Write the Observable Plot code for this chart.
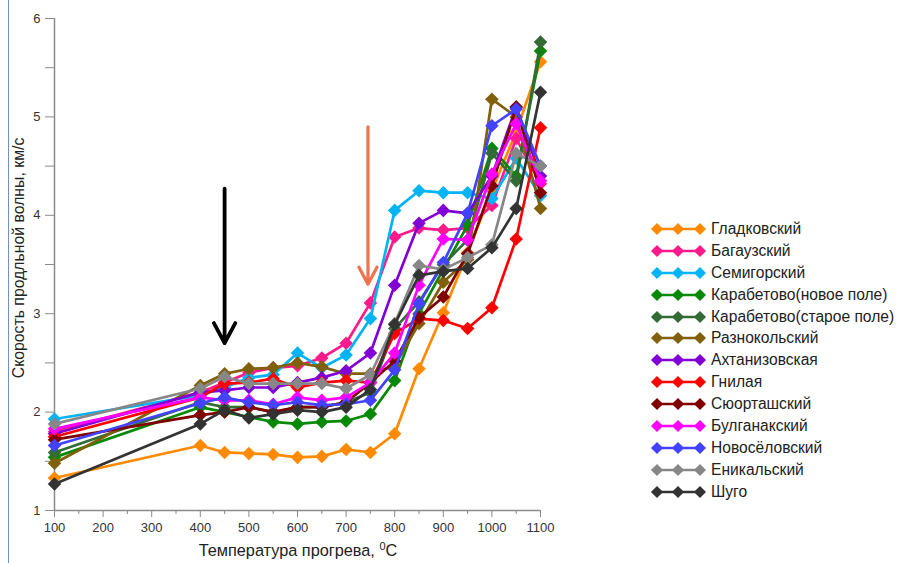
<!DOCTYPE html>
<html>
<head>
<meta charset="utf-8">
<script src="https://cdn.jsdelivr.net/npm/d3@7"></script>
<script src="https://cdn.jsdelivr.net/npm/@observablehq/plot@0.6"></script>
<style>
  html, body { margin: 0; padding: 0; background: #fff; }
  body { width: 898px; height: 563px; overflow: hidden; font-family: "Liberation Sans", Arial, sans-serif; }
  #wrap { position: relative; width: 898px; height: 563px; }
  #border { position: absolute; left: 8px; top: 0; width: 1px; height: 563px; background: #6f93c6; }
  #xlabel { position: absolute; left: 0; width: 596px; text-align: center; top: 540px; font-size: 16.3px; color: #222; }
  #xlabel sup { font-size: 11px; vertical-align: 6px; }
  #ylabel { position: absolute; left: 19px; top: 258px; transform: translate(-50%, -50%) rotate(-90deg); white-space: nowrap; font-size: 15.8px; color: #222; }
  #legend { position: absolute; left: 648px; top: 218px; }
  .item { height: 21.9px; display: flex; align-items: center; font-size: 15.6px; color: #222; }
  .item svg { margin-right: 5px; }
</style>
</head>
<body>
<div id="wrap">
  <div id="border"></div>
  <div id="chart"></div>
  <div id="xlabel">Температура прогрева, <sup>0</sup>C</div>
  <div id="ylabel">Скорость продльной волны, км/с</div>
  <div id="legend"></div>
</div>
<script>
const temps = [100, 400, 450, 500, 550, 600, 650, 700, 750, 800, 850, 900, 950, 1000, 1050, 1100];

const names = ["Гладковский", "Багаузский", "Семигорский", "Карабетово(новое поле)", "Карабетово(старое поле)",
  "Разнокольский", "Ахтанизовская", "Гнилая", "Сюорташский", "Булганакский", "Новосёловский", "Еникальский", "Шуго"];

const colors = ["#ff8a00", "#ff1a8c", "#00b4f5", "#068a06", "#336b36", "#80600a", "#8000d6",
  "#ff0000", "#800000", "#ff00ff", "#4343ff", "#878787", "#333333"];

const gladkovsky = [1.33, 1.66, 1.59, 1.58, 1.57, 1.54, 1.55, 1.62, 1.59, 1.78, 2.44, 3.01, 3.62, 4.25, 4.85, 5.56];
const bagauzsky = [1.80, 2.20, 2.30, 2.40, 2.45, 2.47, 2.55, 2.70, 3.11, 3.78, 3.87, 3.85, 3.87, 4.10, 4.78, 4.32];
const semigorsky = [1.93, 2.17, 2.25, 2.35, 2.38, 2.60, 2.45, 2.58, 2.95, 4.05, 4.25, 4.23, 4.23, 4.17, 4.58, 4.20];
const karabetovoNew = [1.54, 2.05, 2.00, 1.95, 1.90, 1.88, 1.90, 1.91, 1.98, 2.32, 3.00, 3.45, 3.90, 4.68, 4.40, 5.67];
const karabetovoOld = [1.59, 2.10, 2.05, 2.05, 2.00, 2.05, 2.05, 2.10, 2.20, 2.85, 3.12, 3.50, 3.75, 4.63, 4.35, 5.76];
const raznokolsky = [1.48, 2.27, 2.39, 2.44, 2.45, 2.50, 2.46, 2.39, 2.39, 2.47, 2.90, 3.32, 3.55, 5.18, 5.00, 4.07];
const akhtanizovskaya = [1.78, 2.20, 2.22, 2.25, 2.25, 2.30, 2.35, 2.42, 2.60, 3.29, 3.92, 4.05, 4.02, 4.40, 5.10, 4.40];
const gnilaya = [1.75, 2.15, 2.29, 2.30, 2.34, 2.25, 2.30, 2.32, 2.30, 2.80, 2.95, 2.93, 2.85, 3.06, 3.76, 4.89];
const syurtash = [1.72, 1.97, 2.00, 2.05, 2.00, 2.05, 2.05, 2.10, 2.30, 2.52, 2.96, 3.17, 3.61, 4.30, 5.10, 4.23];
const bulganaksky = [1.83, 2.15, 2.12, 2.12, 2.08, 2.15, 2.12, 2.15, 2.30, 2.60, 3.29, 3.76, 3.75, 4.42, 4.93, 4.35];
const novoselovsky = [1.66, 2.09, 2.15, 2.10, 2.07, 2.10, 2.07, 2.08, 2.12, 2.43, 3.10, 3.52, 4.02, 4.91, 5.08, 4.50];
const enikalsky = [1.88, 2.24, 2.36, 2.29, 2.29, 2.29, 2.29, 2.24, 2.38, 2.90, 3.49, 3.45, 3.57, 3.70, 4.63, 4.50];
const shugo = [1.27, 1.88, 2.02, 1.94, 1.98, 2.02, 2.00, 2.05, 2.23, 2.89, 3.39, 3.43, 3.46, 3.67, 4.07, 5.25];

const seriesValues = [gladkovsky, bagauzsky, semigorsky, karabetovoNew, karabetovoOld, raznokolsky,
  akhtanizovskaya, gnilaya, syurtash, bulganaksky, novoselovsky, enikalsky, shugo];

const yTicks = [1, 2, 3, 4, 5, 6];
const yMinorTicks = [1.5, 2.5, 3.5, 4.5, 5.5];
const xTicks = [100, 200, 300, 400, 500, 600, 700, 800, 900, 1000, 1100];
const xMinorTicks = [150, 250, 350, 450, 550, 650, 750, 850, 950, 1050];

// annotation arrows (data coordinates)
const arrows = [
  {x: 450, y1: 4.27, y2: 2.70, color: "#000000", w: 3.8},
  {x: 745, y1: 4.90, y2: 3.30, color: "#f2714f", w: 3.2}
];

const rows = names.flatMap((name, i) => temps.map((t, j) => ({name, t, v: seriesValues[i][j]})));

const marks = [
  Plot.ruleX([100], {y1: 1, y2: 6, stroke: "#8a8a8a", strokeWidth: 1.5}),
  Plot.ruleY([1], {x1: 100, x2: 1100, stroke: "#8a8a8a", strokeWidth: 1.5}),
  Plot.axisY(yTicks, {tickSize: 9, tickPadding: 5, stroke: "#8a8a8a", fill: "#333", fontSize: 13, tickFormat: d => String(d)}),
  Plot.axisY(yMinorTicks, {tickSize: 9, text: null, stroke: "#8a8a8a"}),
  Plot.axisX(xTicks, {tickSize: 7, tickPadding: 5, stroke: "#8a8a8a", fill: "#333", fontSize: 13, tickFormat: d => String(d)}),
  Plot.axisX(xMinorTicks, {tickSize: 4, text: null, stroke: "#8a8a8a"})
];
names.forEach((name, i) => {
  const data = rows.filter(d => d.name === name);
  marks.push(Plot.line(data, {x: "t", y: "v", stroke: colors[i], strokeWidth: 2.7}));
  marks.push(Plot.dot(data, {x: "t", y: "v", symbol: "square", r: 5.4, rotate: 45, fill: colors[i], stroke: "none"}));
});
arrows.forEach(a => {
  marks.push(Plot.arrow([a], {x1: "x", x2: "x", y1: "y1", y2: "y2", stroke: a.color, strokeWidth: a.w, headLength: 9, headAngle: 56}));
});

const chart = Plot.plot({
  width: 898,
  height: 563,
  marginLeft: 54,
  marginRight: 358,
  marginTop: 18,
  marginBottom: 53,
  style: {fontFamily: "'Liberation Sans', Arial, sans-serif", background: "transparent"},
  x: {domain: [100, 1100], axis: null},
  y: {domain: [1, 6], axis: null},
  marks
});
document.getElementById("chart").appendChild(chart);

// legend
const legend = document.getElementById("legend");
names.forEach((name, i) => {
  const item = document.createElement("div");
  item.className = "item";
  const c = colors[i];
  const dia = cx => `<rect x="${cx - 4.3}" y="${11 - 4.3}" width="8.6" height="8.6" transform="rotate(45 ${cx} 11)" fill="${c}"/>`;
  item.innerHTML = `<svg width="58" height="22"><line x1="9" x2="52" y1="11" y2="11" stroke="${c}" stroke-width="2.6"/>${dia(9)}${dia(30)}${dia(52)}</svg><span>${name}</span>`;
  legend.appendChild(item);
});
</script>
</body>
</html>
